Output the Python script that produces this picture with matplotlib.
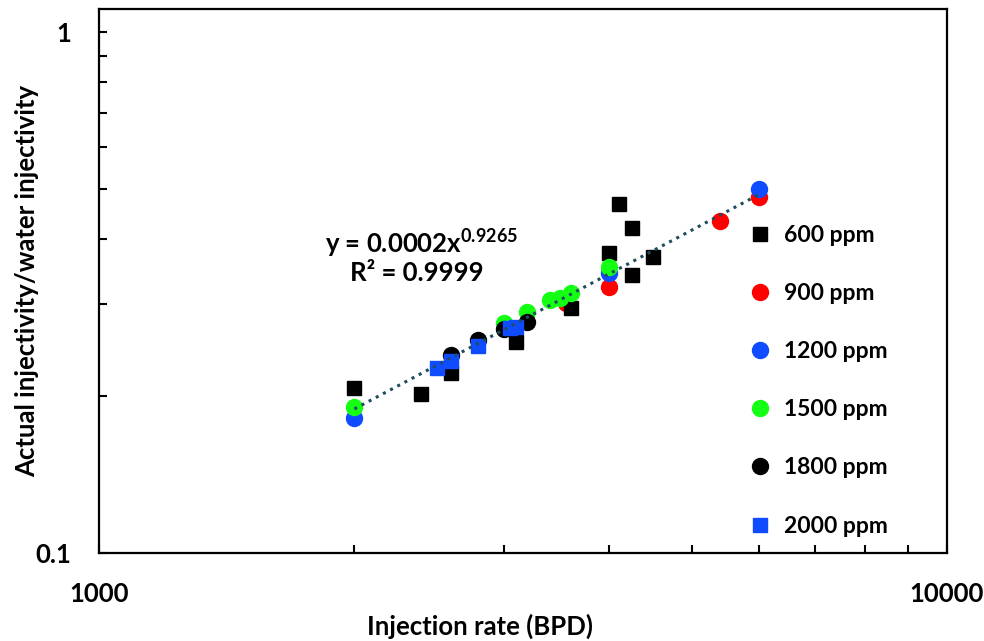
import numpy as np
import matplotlib.pyplot as plt
from matplotlib.lines import Line2D

plt.rcParams['font.family'] = ['Lato', 'DejaVu Sans']
plt.rcParams['font.weight'] = 'bold'
plt.rcParams['mathtext.fontset'] = 'custom'
plt.rcParams['mathtext.rm'] = 'Lato:bold'
plt.rcParams['mathtext.bf'] = 'Lato:bold'

# dane (BPD, iniekcyjnosc wzgledna)
x_600 = [2000, 2400, 2600, 3100, 3600, 4000, 4100, 4250, 4250, 4500]
y_600 = [0.207, 0.202, 0.221, 0.254, 0.295, 0.377, 0.468, 0.420, 0.341, 0.369]

x_900 = [3550, 4000, 5400, 6000]
y_900 = [0.301, 0.323, 0.434, 0.481]

x_1200 = [2000, 4000, 6000]
y_1200 = [0.181, 0.345, 0.500]

x_1500 = [2000, 3000, 3200, 3400, 3500, 3600, 4000]
y_1500 = [0.190, 0.276, 0.290, 0.305, 0.309, 0.315, 0.353]

x_1800 = [2600, 2800, 3000, 3200]
y_1800 = [0.240, 0.256, 0.269, 0.277]

x_2000 = [2500, 2600, 2800, 3050, 3100]
y_2000 = [0.226, 0.233, 0.249, 0.270, 0.271]

etykiety = ['600 ppm', '900 ppm', '1200 ppm', '1500 ppm', '1800 ppm', '2000 ppm']

niebieski = '#0f4cff'
zielony = '#14ff14'

fig = plt.figure(figsize=(9.84, 6.41), dpi=100)
ax = fig.add_axes([0.1009, 0.1378, 0.8612, 0.8477])

# linia trendu (potegowa) dopasowana do punktow okraglych
x_fit = np.array(x_900 + x_1200 + x_1500 + x_1800, dtype=float)
y_fit = np.array(y_900 + y_1200 + y_1500 + y_1800, dtype=float)
b, a = np.polyfit(np.log(x_fit), np.log(y_fit), 1)
xt = np.geomspace(2000, 6000, 200)
ax.plot(xt, np.exp(a) * xt ** b, linestyle=':', color='#1f4c5e', linewidth=2.2, zorder=5)

ax.plot(x_600, y_600, 's', color='black', markersize=10, linestyle='none', zorder=3)
ax.plot(x_900, y_900, 'o', color='red', markersize=11.5, linestyle='none', zorder=2)
ax.plot(x_1200, y_1200, 'o', color=niebieski, markersize=11.5, linestyle='none', zorder=3)
ax.plot(x_1500, y_1500, 'o', color=zielony, markersize=11.5, linestyle='none', zorder=3)
ax.plot(x_1800, y_1800, 'o', color='black', markersize=11.5, linestyle='none', zorder=3)
ax.plot(x_2000, y_2000, 's', color=niebieski, markersize=10, linestyle='none', zorder=4)

ax.set_xscale('log')
ax.set_yscale('log')
ax.set_xlim(1000, 10000)
ax.set_ylim(0.1, 1.105)

ax.set_xticks([1000, 10000], ['1000', '10000'])
ax.set_xticks([2000, 3000, 4000, 5000, 6000, 7000, 8000, 9000], [], minor=True)
ax.set_yticks([0.1, 1], ['0.1', '1'])
ax.set_yticks([0.2, 0.3, 0.4, 0.5, 0.6, 0.7, 0.8, 0.9], [], minor=True)
ax.tick_params(which='both', direction='in', length=5.5, width=1.5,
               top=False, right=False, labelsize=18.5)
ax.tick_params(axis='x', which='major', pad=21)
ax.tick_params(axis='y', which='major', pad=20)
for s in ax.spines.values():
    s.set_linewidth(1.6)

ax.set_xlabel('Injection rate (BPD)', fontsize=18.5, fontweight='bold')
ax.set_ylabel('Actual injectivity/water injectivity', fontsize=18.5, fontweight='bold')
ax.xaxis.set_label_coords(0.449, -0.113)
ax.yaxis.set_label_coords(-0.071, 0.5)

ax.text(0.38, 0.57, r'y = 0.0002x$^{0.9265}$', transform=ax.transAxes,
        fontsize=18.5, fontweight='bold', ha='center', va='center')
ax.text(0.375, 0.515, 'R² = 0.9999', transform=ax.transAxes,
        fontsize=18.5, fontweight='bold', ha='center', va='center')

uchwyty = [
    Line2D([], [], marker='s', color='black', markersize=10, linestyle='none'),
    Line2D([], [], marker='o', color='red', markersize=11.5, linestyle='none'),
    Line2D([], [], marker='o', color=niebieski, markersize=11.5, linestyle='none'),
    Line2D([], [], marker='o', color=zielony, markersize=11.5, linestyle='none'),
    Line2D([], [], marker='o', color='black', markersize=11.5, linestyle='none'),
    Line2D([], [], marker='s', color=niebieski, markersize=10, linestyle='none'),
]
ax.legend(uchwyty, etykiety, loc='upper left', bbox_to_anchor=(0.755, 0.62),
          frameon=False, fontsize=16.5, labelspacing=1.62, handletextpad=0.55,
          handlelength=1.0, borderaxespad=0)

fig.savefig('out.png', dpi=100)
